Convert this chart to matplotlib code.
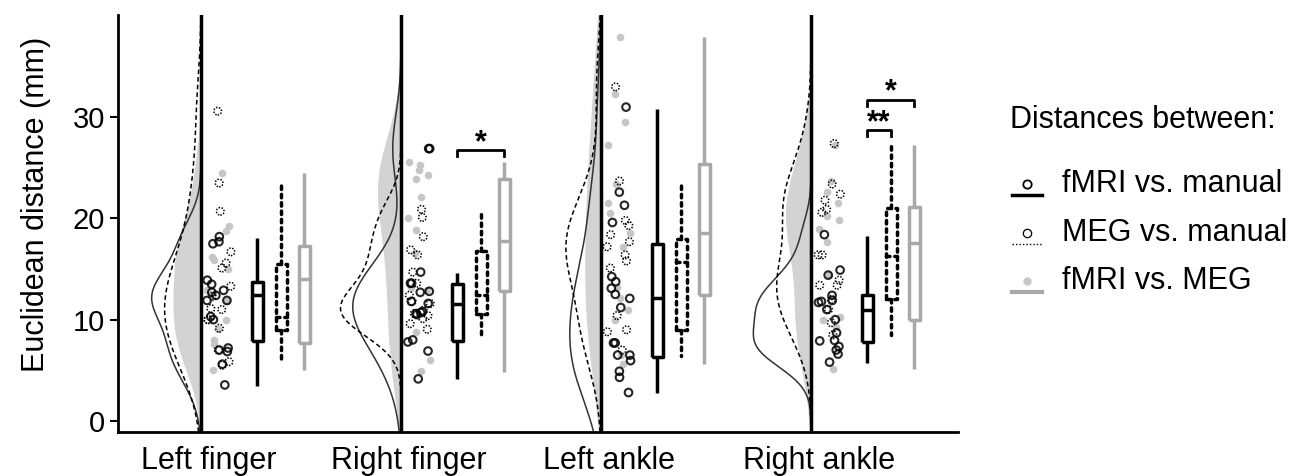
import matplotlib
matplotlib.use("Agg")
import matplotlib.pyplot as plt
from matplotlib.lines import Line2D
import numpy as np

plt.rcParams['font.family'] = ['Liberation Sans', 'DejaVu Sans']

# data (mm)
groups = ["Left finger", "Right finger", "Left ankle", "Right ankle"]
base_pos = [0, 1, 2, 3.05]

# scatter values: fMRI vs manual, MEG vs manual, fMRI vs MEG
fmri_manual = [
    [18.2, 17.7, 17.5, 13.9, 13.5, 12.9, 12.7, 12.4, 11.9, 11.9, 10.3, 10.0, 7.2, 7.0, 6.85, 5.6, 3.55],
    [26.9, 26.9, 14.7, 13.6, 13.6, 12.8, 12.7, 11.8, 11.6, 10.8, 10.7, 10.6, 10.5, 8.0, 7.8, 6.9, 4.15],
    [31.0, 22.6, 21.3, 19.6, 14.25, 13.75, 13.1, 12.5, 12.1, 11.2, 7.7, 7.7, 6.5, 6.5, 5.95, 4.9, 4.3, 2.8],
    [18.4, 14.9, 14.4, 12.4, 11.9, 11.8, 11.7, 11.0, 10.0, 8.7, 7.95, 7.9, 7.35, 7.0, 6.6, 5.8],
]
meg_manual = [
    [30.6, 23.5, 20.7, 16.7, 15.6, 15.1, 13.3, 12.3, 11.1, 11.0, 10.0, 10.0, 9.15, 7.0, 5.85, 5.5],
    [20.9, 20.1, 18.2, 16.9, 16.4, 14.7, 13.6, 12.4, 11.6, 11.8, 10.9, 10.6, 10.4, 10.1, 9.6, 9.05],
    [33.0, 23.7, 19.8, 19.3, 18.4, 17.7, 17.2, 16.4, 15.8, 15.1, 10.4, 9.0, 8.8, 7.0],
    [27.4, 23.4, 22.4, 21.8, 20.9, 20.6, 16.4, 16.4, 13.9, 13.4, 13.4, 12.0, 11.0, 9.7, 8.5],
]
fmri_meg = [
    [24.5, 19.25, 18.8, 16.2, 15.9, 15.0, 12.9, 11.8, 10.0, 9.1, 8.0, 7.6, 5.0],
    [25.6, 25.3, 24.8, 24.3, 23.9, 22.1, 20.0, 18.9, 16.6, 13.1, 12.9, 8.8, 6.0, 4.9],
    [37.9, 32.3, 29.5, 27.3, 23.4, 21.5, 20.5, 18.6, 17.2, 13.25, 12.1, 10.96, 10.0, 6.5, 5.6],
    [27.3, 23.7, 22.6, 21.5, 20.2, 19.8, 19.0, 17.7, 14.4, 10.3, 10.0, 9.3, 5.1],
]

# box stats (whislo, q1, med, q3, whishi) per group
box_fmri_manual = [(3.45, 7.9, 12.4, 13.75, 18.1), (4.15, 7.9, 11.5, 13.5, 14.6),
                   (2.8, 6.35, 12.1, 17.5, 30.85), (5.7, 7.8, 11.0, 12.4, 18.3)]
box_meg_manual = [(5.75, 9.0, 10.3, 15.5, 23.5), (8.25, 10.6, 12.4, 16.8, 20.7),
                  (6.4, 9.0, 15.7, 18.0, 23.6), (8.5, 12.0, 16.3, 21.0, 27.4)]
box_fmri_meg = [(5.0, 7.7, 14.0, 17.3, 24.5), (4.8, 12.8, 17.8, 23.9, 25.6),
                (5.6, 12.4, 18.6, 25.4, 37.9), (5.1, 10.0, 17.6, 21.1, 27.3)]

# significance brackets: (group, box a, box b, height, label)
signif = [(1, 0, 2, 26.75, "*"), (3, 0, 1, 28.7, "**"), (3, 0, 2, 31.75, "*")]

legend_labels = ["fMRI vs. manual", "MEG vs. manual", "fMRI vs. MEG"]

GRAY_PT = '#c6c6c6'
GRAY_BOX = '#a8a8a8'
GRAY_FILL = '#d3d3d3'
box_off = [0.28, 0.40, 0.515]
K = 3.0


def kde(vals, grid):
    v = np.asarray(vals, dtype=float)
    h = v.std(ddof=1) * len(v) ** (-0.2)
    z = (grid[:, None] - v[None, :]) / h
    return np.exp(-0.5 * z ** 2).sum(1) / (len(v) * h * np.sqrt(2 * np.pi))


fig = plt.figure(figsize=(12.98, 4.76), dpi=100)
ax = fig.add_axes([118 / 1298, 1 - 432 / 476, (958 - 118) / 1298, (432 - 15) / 476])
ax.set_xlim(-0.415, 3.785)
ax.set_ylim(-1.1, 40.1)

grid = np.linspace(-1.1, 40.1, 400)
rng = np.random.default_rng(7)

styles = [
    dict(color='k', ls='-'),
    dict(color='k', ls=(0, (1, 1.4))),
    dict(color=GRAY_BOX, ls='-'),
]

for i, b in enumerate(base_pos):
    # half densities to the left of the base line
    ax.fill_betweenx(grid, b - 0.8 * K * kde(fmri_meg[i], grid), b, color=GRAY_FILL, lw=0, zorder=1)
    ax.plot(b - K * kde(fmri_manual[i], grid), grid, color='#333333', lw=1.1, zorder=2)
    ax.plot(b - K * kde(meg_manual[i], grid), grid, color='k', lw=1.1, ls=(0, (3, 2)), zorder=2)
    ax.axvline(b, color='k', lw=2.5, zorder=3)

    # jittered points
    v = fmri_meg[i]
    ax.scatter(b + rng.uniform(0.03, 0.15, len(v)), v, s=30, color=GRAY_PT, lw=0, zorder=4)
    v = meg_manual[i]
    ax.scatter(b + rng.uniform(0.03, 0.15, len(v)), v, s=30, facecolor='none', edgecolor='k',
               lw=1.1, linestyle=(0, (1, 1)), zorder=5)
    v = fmri_manual[i]
    ax.scatter(b + rng.uniform(0.03, 0.15, len(v)), v, s=30, facecolor='none', edgecolor='k',
               lw=1.5, alpha=0.85, zorder=6)

    # boxes
    for j, stats in enumerate([box_fmri_manual[i], box_meg_manual[i], box_fmri_meg[i]]):
        lo, q1, med, q3, hi = stats
        st = styles[j]
        props = dict(color=st['color'], linestyle=st['ls'], linewidth=2.5,
                     dash_capstyle='round', solid_capstyle='butt')
        ax.bxp([dict(whislo=lo, q1=q1, med=med, q3=q3, whishi=hi)],
               positions=[b + box_off[j]], widths=0.055, showfliers=False, showcaps=False,
               boxprops=props, whiskerprops=props, medianprops=props, manage_ticks=False)

for g, a, c, h, lab in signif:
    x0 = base_pos[g] + box_off[a]
    x1 = base_pos[g] + box_off[c]
    ax.plot([x0, x0, x1, x1], [h - 0.6, h, h, h - 0.6], color='k', lw=2, zorder=7)
    ax.text((x0 + x1) / 2, h - 0.8, lab, ha='center', va='bottom', fontsize=22, fontweight='bold')

ax.spines['top'].set_visible(False)
ax.spines['right'].set_visible(False)
ax.spines['left'].set_linewidth(2)
ax.spines['bottom'].set_linewidth(2)
ax.set_yticks([0, 10, 20, 30])
ax.tick_params(axis='y', labelsize=21, length=6, width=1.5, direction='out')
ax.set_xticks([b + 0.04 for b in base_pos])
ax.set_xticklabels(groups, fontsize=22)
ax.tick_params(axis='x', length=0, pad=10)
ax.set_ylabel("Euclidean distance (mm)", fontsize=22)
ax.yaxis.set_label_coords(-0.08, 0.545)

# legend drawn by hand on the right
W, H = 1298, 476
fig.text(1010 / W, 1 - 120 / H, "Distances between:", fontsize=22, va='center', ha='left')
leg_y = [184, 233, 281]
leg_line = [dict(color='k', lw=2.5, ls='-'), dict(color='k', lw=1.0, ls=(0, (1, 1.5))),
            dict(color=GRAY_BOX, lw=3, ls='-')]
leg_mark = [dict(marker='o', mfc='none', mec='k', mew=1.3),
            dict(marker='o', mfc='none', mec='k', mew=0.9),
            dict(marker='o', mfc=GRAY_PT, mec='none')]
for k in range(3):
    yy = 1 - leg_y[k] / H
    fig.add_artist(Line2D([1012 / W, 1042 / W], [yy - 11 / H] * 2, transform=fig.transFigure, **leg_line[k]))
    fig.add_artist(Line2D([1027 / W], [yy], transform=fig.transFigure, ms=6, linestyle='none', **leg_mark[k]))
    fig.text(1062 / W, yy, legend_labels[k], fontsize=22, va='center', ha='left')

fig.savefig("out.png", dpi=100)
